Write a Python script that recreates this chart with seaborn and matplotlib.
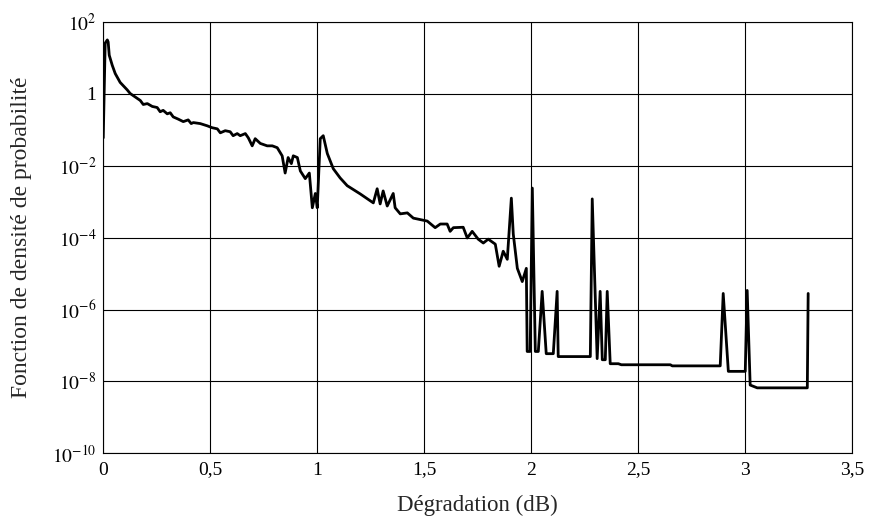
import numpy as np
import pandas as pd
import matplotlib
matplotlib.use("Agg")
import matplotlib.pyplot as plt
import seaborn as sns
from matplotlib.ticker import FixedLocator, FixedFormatter

# Degradation (dB) and probability density
degradation = [
    0.000, 0.009, 0.019, 0.023, 0.028, 0.042, 0.056, 0.079, 0.112, 0.126,
    0.173, 0.187, 0.206, 0.229, 0.252, 0.266, 0.280, 0.299, 0.313, 0.327,
    0.350, 0.374, 0.397, 0.411, 0.421, 0.453, 0.486, 0.509, 0.533, 0.547,
    0.570, 0.593, 0.607, 0.626, 0.640, 0.664, 0.678, 0.696, 0.710, 0.734,
    0.766, 0.790, 0.813, 0.836, 0.850, 0.864, 0.879, 0.888, 0.907, 0.921,
    0.944, 0.963, 0.977, 0.991, 1.000, 1.014, 1.028, 1.047, 1.075, 1.107,
    1.140, 1.201, 1.262, 1.280, 1.294, 1.308, 1.327, 1.355, 1.364, 1.388,
    1.421, 1.449, 1.514, 1.551, 1.575, 1.607, 1.621, 1.636, 1.682, 1.701,
    1.724, 1.752, 1.776, 1.799, 1.832, 1.850, 1.869, 1.888, 1.907, 1.916,
    1.935, 1.958, 1.977, 1.981, 1.995, 2.005, 2.019, 2.033, 2.051, 2.070,
    2.103, 2.121, 2.126, 2.276, 2.285, 2.308, 2.322, 2.332, 2.346, 2.355,
    2.369, 2.407, 2.421, 2.650, 2.659, 2.883, 2.897, 2.921, 3.000, 3.009,
    3.023, 3.056, 3.290, 3.294,
]
density = [
    6.0e-2, 26, 32, 28, 12, 6.3, 3.7, 2.1, 1.3, 1.03,
    0.66, 0.51, 0.54, 0.45, 0.42, 0.32, 0.35, 0.28, 0.30, 0.23,
    0.20, 0.17, 0.19, 0.15, 0.16, 0.15, 0.13, 0.115, 0.107, 0.083,
    0.095, 0.089, 0.069, 0.079, 0.069, 0.079, 0.060, 0.036, 0.057, 0.042,
    0.036, 0.036, 0.032, 0.019, 6.3e-3, 0.017, 0.0115, 0.019, 0.017, 7.2e-3,
    4.4e-3, 6.3e-3, 6.8e-4, 1.7e-3, 6.8e-4, 0.057, 0.069, 0.022, 8.3e-3, 4.6e-3,
    2.8e-3, 1.65e-3, 9.3e-4, 2.3e-3, 8.7e-4, 2.0e-3, 7.6e-4, 1.7e-3, 6.8e-4, 4.6e-4,
    4.9e-4, 3.5e-4, 2.9e-4, 1.9e-4, 2.4e-4, 2.4e-4, 1.5e-4, 1.9e-4, 1.95e-4, 9.8e-5,
    1.5e-4, 9.1e-5, 7.1e-5, 9.1e-5, 6.6e-5, 1.6e-5, 4.2e-5, 2.5e-5, 1.26e-3, 1.26e-4,
    1.4e-5, 6.0e-6, 1.4e-5, 6.8e-8, 6.8e-8, 2.4e-3, 6.8e-8, 6.8e-8, 3.2e-6, 5.9e-8,
    5.9e-8, 3.2e-6, 4.9e-8, 4.9e-8, 1.2e-3, 4.3e-8, 3.2e-6, 4.0e-8, 4.0e-8, 3.2e-6,
    3.1e-8, 3.1e-8, 2.9e-8, 2.9e-8, 2.7e-8, 2.7e-8, 2.8e-6, 1.9e-8, 1.9e-8, 3.4e-6,
    7.9e-9, 6.6e-9, 6.6e-9, 2.8e-6,
]

x_ticks = [0, 0.5, 1, 1.5, 2, 2.5, 3, 3.5]
x_tick_labels = ["0", "0,5", "1", "1,5", "2", "2,5", "3", "3,5"]
y_ticks = [1e2, 1, 1e-2, 1e-4, 1e-6, 1e-8, 1e-10]
y_tick_labels = [r"$10^{2}$", "1", r"$10^{-2}$", r"$10^{-4}$",
                 r"$10^{-6}$", r"$10^{-8}$", r"$10^{-10}$"]

sns.set_style("white")
plt.rcParams["font.family"] = ["Liberation Serif", "DejaVu Serif"]
plt.rcParams["mathtext.fontset"] = "stix"

df = pd.DataFrame({"deg": degradation, "pdf": density})

fig = plt.figure(figsize=(8.75, 5.27), dpi=100)
ax = fig.add_axes([0.118, 0.140, 0.856, 0.818])

sns.lineplot(data=df, x="deg", y="pdf", ax=ax, color="black", linewidth=2.0,
             estimator=None, sort=False)

ax.set_yscale("log")
ax.set_xlim(0, 3.5)
ax.set_ylim(1e-10, 1e2)

ax.xaxis.set_major_locator(FixedLocator(x_ticks))
ax.xaxis.set_major_formatter(FixedFormatter(x_tick_labels))
ax.yaxis.set_major_locator(FixedLocator(y_ticks))
ax.yaxis.set_major_formatter(FixedFormatter(y_tick_labels))
ax.yaxis.set_minor_locator(FixedLocator([]))
ax.tick_params(axis="both", length=0, labelsize=14, colors="black")
ax.tick_params(axis="x", pad=6)
ax.tick_params(axis="y", pad=5)

ax.grid(True, which="major", color="black", linewidth=0.8)
for s in ax.spines.values():
    s.set_color("black")
    s.set_linewidth(0.8)

ax.set_xlabel("Dégradation (dB)", fontsize=16.5, labelpad=12)
ax.set_ylabel("Fonction de densité de probabilité", fontsize=17, labelpad=14)

fig.savefig("out.png", dpi=100)
